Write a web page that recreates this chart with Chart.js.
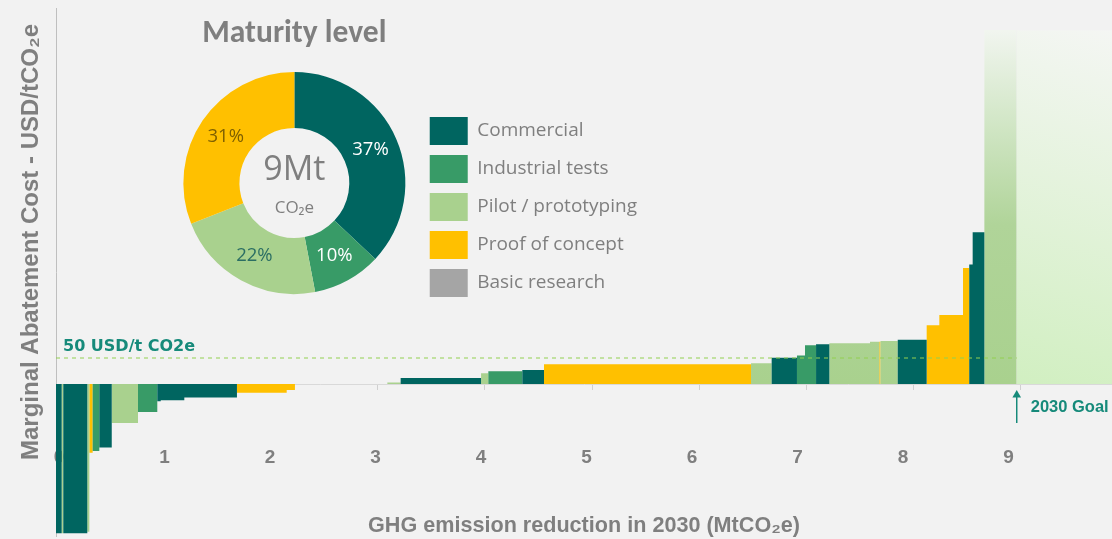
<!DOCTYPE html>
<html>
<head>
<meta charset="utf-8">
<script src="https://cdn.jsdelivr.net/npm/chart.js@4.4.1/dist/chart.umd.min.js"></script>
<style>
html, body { margin: 0; padding: 0; background: #f2f2f2; overflow: hidden; }
#main { position: absolute; left: 0; top: 0; width: 1112px; height: 539px; }
#donut { position: absolute; left: 169px; top: 10px; width: 480px; height: 297px; }
</style>
</head>
<body>
<div id="main"><canvas id="macc"></canvas></div>
<div id="donut"><canvas id="maturity"></canvas></div>
<script>
const levels = ["Commercial", "Industrial tests", "Pilot / prototyping", "Proof of concept", "Basic research"];
const levelColors = ["#006560", "#389b67", "#a9d18e", "#ffc000", "#a5a5a5"];
const shareLabelColors = ["#ffffff", "#ffffff", "#2b6e63", "#7f6000", "#ffffff"];
const maturityShares = [37, 10, 22, 31, 0];

// abatement levers in merit order: volume (MtCO2e), cost (USD/tCO2e), maturity (index in levels)
const leverVolumes = [0.053, 0.015, 0.224, 0.019, 0.031, 0.062, 0.116, 0.245, 0.180, 0.032,
                      0.220, 0.491, 0.464, 0.077, 0.862, 0.124, 0.750, 0.068, 0.317, 0.202,
                      1.931, 0.193, 0.236, 0.075, 0.103, 0.124, 0.379, 0.087, 0.011, 0.161,
                      0.270, 0.118, 0.221, 0.058, 0.032, 0.109, 0.302];
const leverCosts = [-287, -287, -287, -284, -132, -129, -122, -75, -54, -33,
                    -31, -26, -17, -11.5, 0, 3, 11.5, 20.5, 24.4, 27,
                    37.8, 39.8, 50.5, 55, 74.4, 76.3, 78.3, 81.4, 81.4, 82.7,
                    85.2, 112.8, 132.7, 223, 230, 292, 681];
const leverLevels = [0, 2, 0, 2, 3, 1, 0, 2, 1, 0,
                     0, 0, 3, 3, 0, 2, 0, 2, 1, 0,
                     3, 2, 0, 1, 1, 0, 2, 2, 3, 2,
                     0, 3, 3, 3, 0, 0, 2];
const thresholdCost = 50;
const goalZoneTop = 680;

const gray = "#7f7f7f";
const teal = "#168a7a";
const calibri = "Carlito, Lato, 'Open Sans', sans-serif";
const segoe = "'Open Sans', 'Noto Sans', sans-serif";
const arial = "'Liberation Sans', Arial, sans-serif";

let starts = [];
let total = 0;
for (let i = 0; i < leverVolumes.length; i++) {
    starts.push(total);
    total += leverVolumes[i];
}

function levelSteps(level) {
    let pts = [];
    for (let i = 0; i < leverVolumes.length; i++) {
        pts.push({x: starts[i], y: leverLevels[i] == level ? leverCosts[i] : 0});
    }
    pts.push({x: total, y: 0});
    return pts;
}

function pilotFill(context) {
    let chart = context.chart;
    if (!chart.chartArea) return levelColors[2];
    let y = chart.scales.y;
    let g = chart.ctx.createLinearGradient(0, y.getPixelForValue(0), 0, y.getPixelForValue(goalZoneTop));
    g.addColorStop(0, "#a9d18e");
    g.addColorStop(0.45, "#b0d499");
    g.addColorStop(0.75, "#d3e7c8");
    g.addColorStop(1, "#f1f5ef");
    return g;
}

function goalFill(context) {
    let chart = context.chart;
    if (!chart.chartArea) return "#dff2d4";
    let x = chart.scales.x, y = chart.scales.y;
    let g = chart.ctx.createLinearGradient(x.getPixelForValue(total), y.getPixelForValue(0),
                                           x.getPixelForValue(x.max), y.getPixelForValue(goalZoneTop));
    g.addColorStop(0, "#d1efc1");
    g.addColorStop(1, "#f4f6f3");
    return g;
}

let datasets = [];
datasets.push({
    label: "50 USD/t",
    data: [{x: 0, y: thresholdCost}, {x: total, y: thresholdCost}],
    borderColor: "#92d050", borderWidth: 1.2, borderDash: [4, 4],
    pointRadius: 0, fill: false, order: 0
});
datasets.push({
    label: "2030 Goal",
    data: [{x: total, y: -75}, {x: total, y: -21}],
    borderColor: teal, borderWidth: 1.5,
    pointRadius: [0, 5], pointStyle: "triangle", pointBackgroundColor: teal, pointBorderWidth: 0,
    fill: false, order: 0
});
for (let l = 0; l < 4; l++) {
    datasets.push({
        label: levels[l],
        data: levelSteps(l),
        stepped: "before",
        fill: "origin",
        backgroundColor: l == 2 ? pilotFill : levelColors[l],
        borderColor: "transparent", borderWidth: 0, pointRadius: 0,
        order: 1
    });
}

const xMax = (1112 - 56) / 107.2;
datasets.push({
    label: "goal zone",
    data: [{x: total, y: goalZoneTop}, {x: xMax, y: goalZoneTop}],
    fill: "origin", backgroundColor: goalFill,
    borderColor: "transparent", borderWidth: 0, pointRadius: 0,
    order: 2
});

const maccLabels = {
    id: "maccLabels",
    afterDatasetsDraw(chart) {
        let ctx = chart.ctx;
        let x = chart.scales.x, y = chart.scales.y;
        ctx.save();
        ctx.fillStyle = teal;
        ctx.textAlign = "left";
        ctx.textBaseline = "alphabetic";
        ctx.font = "bold 16px 'DejaVu Sans', sans-serif";
        ctx.fillText("50 USD/t CO2e", x.getPixelForValue(0) + 7, y.getPixelForValue(thresholdCost + 14));
        ctx.font = "bold 16.5px " + arial;
        ctx.fillText("2030 Goal", x.getPixelForValue(total) + 14, y.getPixelForValue(-53));

        ctx.fillStyle = gray;
        ctx.font = "bold 24px " + arial;
        ctx.textAlign = "center";
        ctx.textBaseline = "middle";
        ctx.translate(31, 242);
        ctx.rotate(-Math.PI / 2);
        ctx.fillText("Marginal Abatement Cost - USD/tCO\u2082e", 0, 0);
        ctx.restore();
    }
};

new Chart(document.getElementById("macc"), {
    type: "line",
    data: {datasets: datasets},
    options: {
        responsive: true,
        maintainAspectRatio: false,
        animation: false,
        events: [],
        layout: {autoPadding: false, padding: {left: 56, top: 8, right: 0, bottom: 3}},
        plugins: {
            legend: {display: false},
            tooltip: {enabled: false}
        },
        scales: {
            x: {
                type: "linear", axis: "x", min: 0, max: xMax,
                position: {y: 0},
                ticks: {display: false, stepSize: 1, includeBounds: false},
                grid: {drawOnChartArea: false, drawTicks: true, tickLength: 5, color: "#d0d0d0"},
                border: {color: "#d9d9d9"}
            },
            xl: {
                type: "linear", axis: "x", min: -3 / 105.5, max: (1112 - 59) / 105.5,
                position: {y: -120},
                ticks: {stepSize: 1, includeBounds: false, padding: 0, color: gray,
                        font: {family: arial, size: 19, weight: "bold"}},
                grid: {display: false, drawTicks: false},
                border: {display: false},
                title: {
                    display: true,
                    text: "GHG emission reduction in 2030 (MtCO\u2082e)",
                    color: gray,
                    font: {family: arial, size: 21.6, weight: "bold"},
                    padding: {top: 43.4, bottom: 0}
                }
            },
            y: {
                type: "linear", min: -292.3, max: 723.1,
                ticks: {display: false},
                grid: {display: false, drawTicks: false},
                border: {color: "#bfbfbf"}
            }
        }
    },
    plugins: [maccLabels]
});

const donutLabels = {
    id: "donutLabels",
    afterDatasetsDraw(chart) {
        let ctx = chart.ctx;
        let arcs = chart.getDatasetMeta(0).data;
        ctx.save();
        ctx.textAlign = "center";
        ctx.textBaseline = "middle";
        ctx.font = "18.5px " + segoe;
        arcs.forEach(function(arc, i) {
            if (!maturityShares[i]) return;
            let p = arc.tooltipPosition();
            ctx.fillStyle = shareLabelColors[i];
            ctx.fillText(maturityShares[i] + "%", p.x, p.y);
        });
        let cx = arcs[0].x, cy = arcs[0].y;
        ctx.fillStyle = gray;
        ctx.font = "34px " + segoe;
        ctx.fillText(Math.round(total) + "Mt", cx, cy - 13);
        ctx.font = "17px " + segoe;
        ctx.fillText("CO\u2082e", cx, cy + 25);
        ctx.restore();
    }
};

// the legend sits right of a 251px wide donut area, so size the box from the widest label
const legendFont = 19;
let measure = document.createElement("canvas").getContext("2d");
measure.font = legendFont + "px " + segoe;
let widest = 0;
levels.forEach(function(t) { widest = Math.max(widest, measure.measureText(t).width); });
document.getElementById("donut").style.width = Math.ceil(251 + 67 + widest) + "px";

new Chart(document.getElementById("maturity"), {
    type: "doughnut",
    data: {
        labels: levels,
        datasets: [{data: maturityShares, backgroundColor: levelColors, borderWidth: 0}]
    },
    options: {
        responsive: true,
        maintainAspectRatio: false,
        animation: false,
        events: [],
        radius: 111,
        cutout: "49.5%",
        plugins: {
            title: {
                display: true, text: "Maturity level", fullSize: false, color: gray,
                font: {family: calibri, size: 31.5, weight: "bold"},
                padding: {top: 5, bottom: 6.2}
            },
            legend: {
                position: "right", align: "end", fullSize: false,
                labels: {boxWidth: 38, boxHeight: 28, padding: 10, color: gray,
                         font: {family: segoe, size: legendFont}}
            },
            tooltip: {enabled: false}
        }
    },
    plugins: [donutLabels]
});
</script>
</body>
</html>
